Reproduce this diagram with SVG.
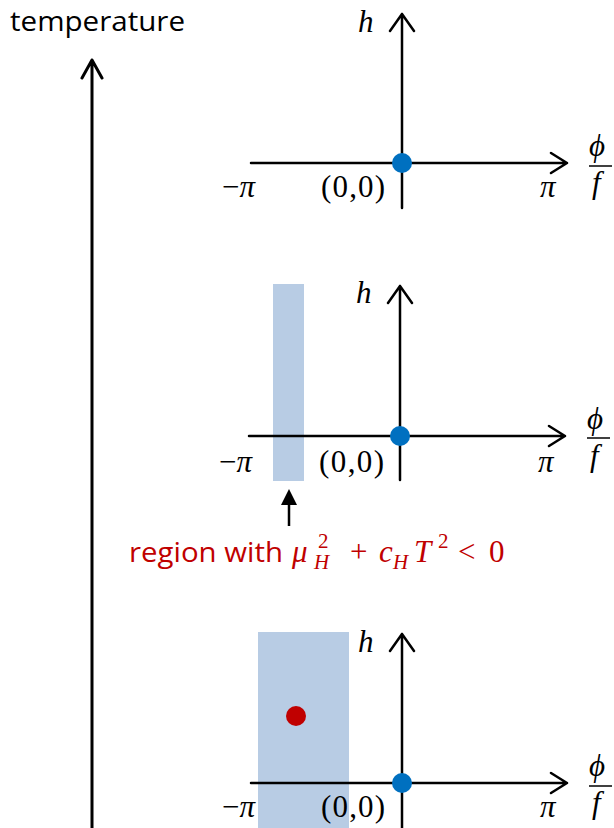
<svg xmlns="http://www.w3.org/2000/svg" width="614" height="828" viewBox="0 0 614 828">
<defs>
<style>
.ax{stroke:#000;stroke-width:2.5;fill:none;stroke-linecap:round;stroke-linejoin:round}
.sans{font-family:"Open Sans","Noto Sans","Liberation Sans",sans-serif}
.m{font-family:"Liberation Serif","DejaVu Serif",serif;font-size:31px;fill:#000}
.mi{font-style:italic}
.up{font-style:normal}
.s{font-size:21px}
.red{fill:#C00000}
.reg{fill:#B8CCE4}
.blue{fill:#0070C0}
.rdot{fill:#C00000}
</style>
<marker id="tri" viewBox="0 0 10 10" refX="0" refY="5" markerWidth="16" markerHeight="16" markerUnits="userSpaceOnUse" orient="auto"><path d="M0,0 L10,5 L0,10 Z" fill="#000"/></marker>
</defs>
<rect width="614" height="828" fill="#fff"/>

<g id="temperature-axis">
<text class="sans" x="10" y="31" font-size="28" textLength="175" lengthAdjust="spacingAndGlyphs">temperature</text>
<path class="ax" style="stroke-width:3" d="M92,830 V60 M82,78 L92,60 L102,78"/>
</g>

<g id="panel-high">
<path class="ax" d="M251,163 H567 M551,153 L567,163 L551,173 M402,208 V14 M390,31 L402,14 L414,31"/>
<circle class="blue" cx="402" cy="163" r="10"/>
<text class="m mi" x="358" y="32">h</text>
<text class="m" x="222" y="197">−<tspan class="mi">π</tspan></text>
<text class="m" x="321" y="197" textLength="64">(0,0)</text>
<text class="m mi" x="540" y="197">π</text>
<text class="m mi" x="589" y="156">ϕ</text>
<line x1="589" y1="166" x2="612" y2="166" stroke="#000" stroke-width="1.5"/>
<text class="m mi" x="592" y="193">f</text>
</g>

<g id="panel-mid">
<rect class="reg" x="273" y="284" width="31" height="197"/>
<path class="ax" d="M249,436 H565 M549,426 L565,436 L549,446 M400,480 V286 M388,303 L400,286 L412,303"/>
<circle class="blue" cx="400" cy="436" r="10"/>
<text class="m mi" x="356" y="303">h</text>
<text class="m" x="219" y="472">−<tspan class="mi">π</tspan></text>
<text class="m" x="319" y="472" textLength="65">(0,0)</text>
<text class="m mi" x="538" y="472">π</text>
<text class="m mi" x="587" y="429">ϕ</text>
<line x1="587" y1="438" x2="610" y2="438" stroke="#000" stroke-width="1.5"/>
<text class="m mi" x="590" y="466">f</text>
</g>

<g id="region-label">
<text class="sans red" x="129" y="562" font-size="28" textLength="154" lengthAdjust="spacingAndGlyphs">region with</text>
<text class="m red mi"><tspan x="292" y="562">μ</tspan><tspan class="s up" x="318" y="548">2</tspan><tspan class="s" x="314" y="569">H</tspan><tspan class="up" x="350" y="562">+</tspan><tspan x="379" y="562">c</tspan><tspan class="s" x="393" y="569">H</tspan><tspan x="414" y="562">T</tspan><tspan class="s up" x="438" y="548">2</tspan><tspan class="up" x="458" y="562">&lt;</tspan><tspan class="up" x="489" y="562">0</tspan></text>
</g>

<g id="connectors">
<line x1="289" y1="526" x2="289" y2="505" stroke="#000" stroke-width="2.5" marker-end="url(#tri)"/>
</g>

<g id="panel-low">
<rect class="reg" x="258" y="632" width="91" height="200"/>
<circle class="rdot" cx="296" cy="716" r="10"/>
<path class="ax" d="M251,783 H567 M551,773 L567,783 L551,793 M402,830 V634 M390,651 L402,634 L414,651"/>
<circle class="blue" cx="402" cy="783" r="10"/>
<text class="m mi" x="358" y="652">h</text>
<text class="m" x="222" y="817">−<tspan class="mi">π</tspan></text>
<text class="m" x="321" y="817" textLength="64">(0,0)</text>
<text class="m mi" x="540" y="817">π</text>
<text class="m mi" x="589" y="776">ϕ</text>
<line x1="589" y1="786" x2="612" y2="786" stroke="#000" stroke-width="1.5"/>
<text class="m mi" x="592" y="813">f</text>
</g>
</svg>
